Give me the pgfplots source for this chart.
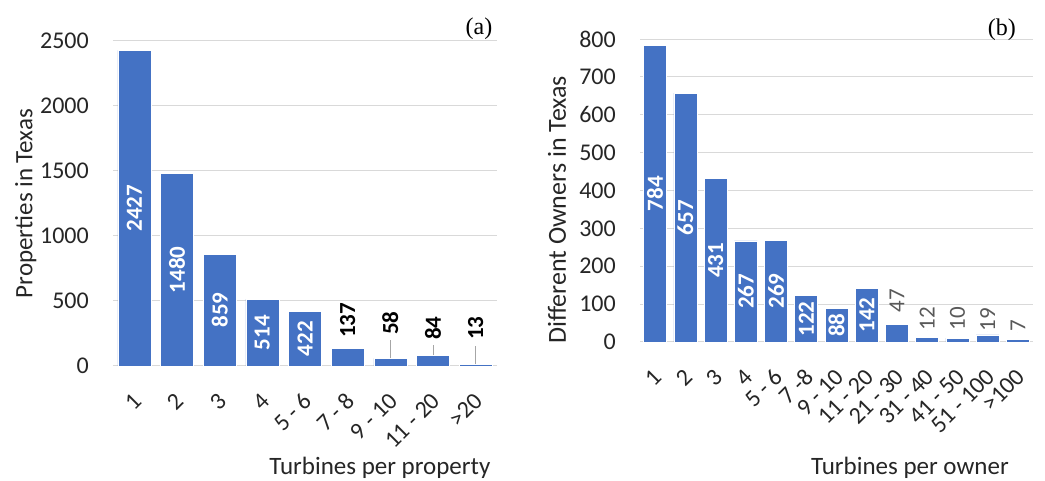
\documentclass[border=0pt]{standalone}
\usepackage{fontspec}
\setmainfont{Carlito}
\newfontfamily\serifpanel{Liberation Serif}
\usepackage{pgfplots}
\usepackage{pgfplotstable}
\pgfplotsset{compat=1.18}

\definecolor{barblue}{HTML}{4472C4}
\definecolor{gridgray}{HTML}{D9D9D9}
\definecolor{txtdark}{HTML}{262626}
\definecolor{lblgray}{HTML}{595959}
\definecolor{leadgray}{HTML}{A6A6A6}

% (a) properties
\pgfplotstableread{
x y
0 2427
1 1480
2 859
3 514
4 422
5 137
6 58
7 84
8 13
}\propbars
\pgfplotstableread{
x y
0 2427
1 1480
2 859
3 514
4 422
}\propin
\pgfplotstableread{
x y ly
5 137 215
6 58 238
7 84 200
8 13 200
}\propout

% (b) owners
\pgfplotstableread{
x y
0 784
1 657
2 431
3 267
4 269
5 122
6 88
7 142
8 47
9 12
10 10
11 19
12 7
}\ownbars
\pgfplotstableread{
x y
0 784
1 657
2 431
3 267
4 269
5 122
6 88
7 142
}\ownin
\pgfplotstableread{
x y ly
8 47 77
9 12 31
10 10 31
11 19 28
12 7 26
}\ownout

\pgfplotsset{
  panel/.style={
    scale only axis,
    axis line style={draw=none},
    major tick length=0pt,
    ymin=0,
    ymajorgrids,
    grid style={gridgray, line width=1pt},
    tick label style={font=\fontsize{24}{24}\selectfont, text=txtdark},
    yticklabel style={anchor=east, inner sep=0pt, xshift=-24pt},
    xticklabel style={font=\fontsize{24}{24}\selectfont, xshift=3pt, yshift=-31pt, rotate=45, anchor=east, inner sep=0pt},
    /pgf/number format/assume math mode=true,
    /pgf/number format/1000 sep={},
    label style={font=\fontsize{25}{25}\selectfont, text=txtdark},
    clip=false,
  },
  bars/.style={ybar, bar shift=0pt, fill=barblue, draw=white, line width=0.6pt},
  inlab/.style={only marks, mark=*, mark size=0pt, mark options={draw=none, fill=none},
    point meta=explicit symbolic, nodes near coords={\pgfplotspointmeta},
    nodes near coords style={rotate=90, anchor=center, inner sep=0pt, text=white,
      font=\fontsize{23}{23}\selectfont\bfseries}},
  outlab/.style={only marks, mark=*, mark size=0pt, mark options={draw=none, fill=none},
    point meta=explicit symbolic, nodes near coords={\pgfplotspointmeta},
    nodes near coords style={rotate=90, anchor=west, inner sep=0pt}},
}

\begin{document}
\begin{tikzpicture}
\path[use as bounding box] (0,0) rectangle (1045pt,481pt);

\begin{axis}[panel,
  at={(113pt,115pt)}, anchor=south west,
  width=384pt, height=325pt,
  ymax=2500, ytick={0,500,...,2500},
  xmin=-0.5, xmax=8.5,
  xtick={0,...,8},
  xticklabels={1,2,3,4,5 - 6,7 - 8,9 - 10,11 - 20,>20},
  ylabel={Properties in Texas},
  ylabel style={at={(rel axis cs:-0.227,0.5)}, anchor=center},
  xlabel={Turbines per property},
  xlabel style={at={(rel axis cs:0.695,-0.314)}, anchor=center},
]
\addplot[bars, bar width=33pt] table[x=x, y=y] {\propbars};
\addplot[inlab] table[x=x, y expr=\thisrow{y}/2, meta=y] {\propin};
\addplot[leadgray, line width=0.8pt] coordinates {(6,58) (6,200)};
\addplot[leadgray, line width=0.8pt] coordinates {(7,84) (7,161)};
\addplot[leadgray, line width=0.8pt] coordinates {(8,13) (8,154)};
\addplot[outlab, nodes near coords style={text=black, font=\fontsize{23}{23}\selectfont\bfseries}]
  table[x=x, y=ly, meta=y] {\propout};
\node[font=\serifpanel\fontsize{24}{24}\selectfont] at (rel axis cs:0.953,1.037) {(a)};
\end{axis}

\begin{axis}[panel,
  at={(640pt,139pt)}, anchor=south west,
  width=393pt, height=303pt,
  ymax=800, ytick={0,100,...,800},
  xmin=-0.5, xmax=12.5,
  xtick={0,...,12},
  xticklabels={1,2,3,4,5 - 6,7 -8,9 - 10,11 - 20,21 - 30,31 - 40,41 - 50,51 - 100,>100},
  ylabel={Different Owners in Texas},
  ylabel style={at={(rel axis cs:-0.211,0.436)}, anchor=center, font=\fontsize{26}{26}\selectfont},
  xlabel={Turbines per owner},
  xlabel style={at={(rel axis cs:0.687,-0.416)}, anchor=center},
]
\addplot[bars, bar width=23pt] table[x=x, y=y] {\ownbars};
\addplot[inlab] table[x=x, y expr=\thisrow{y}/2, meta=y] {\ownin};
\addplot[outlab, nodes near coords style={text=lblgray, font=\fontsize{23}{23}\selectfont}]
  table[x=x, y=ly, meta=y] {\ownout};
\node[font=\serifpanel\fontsize{24}{24}\selectfont] at (rel axis cs:0.921,1.03) {(b)};
\end{axis}
\end{tikzpicture}
\end{document}
